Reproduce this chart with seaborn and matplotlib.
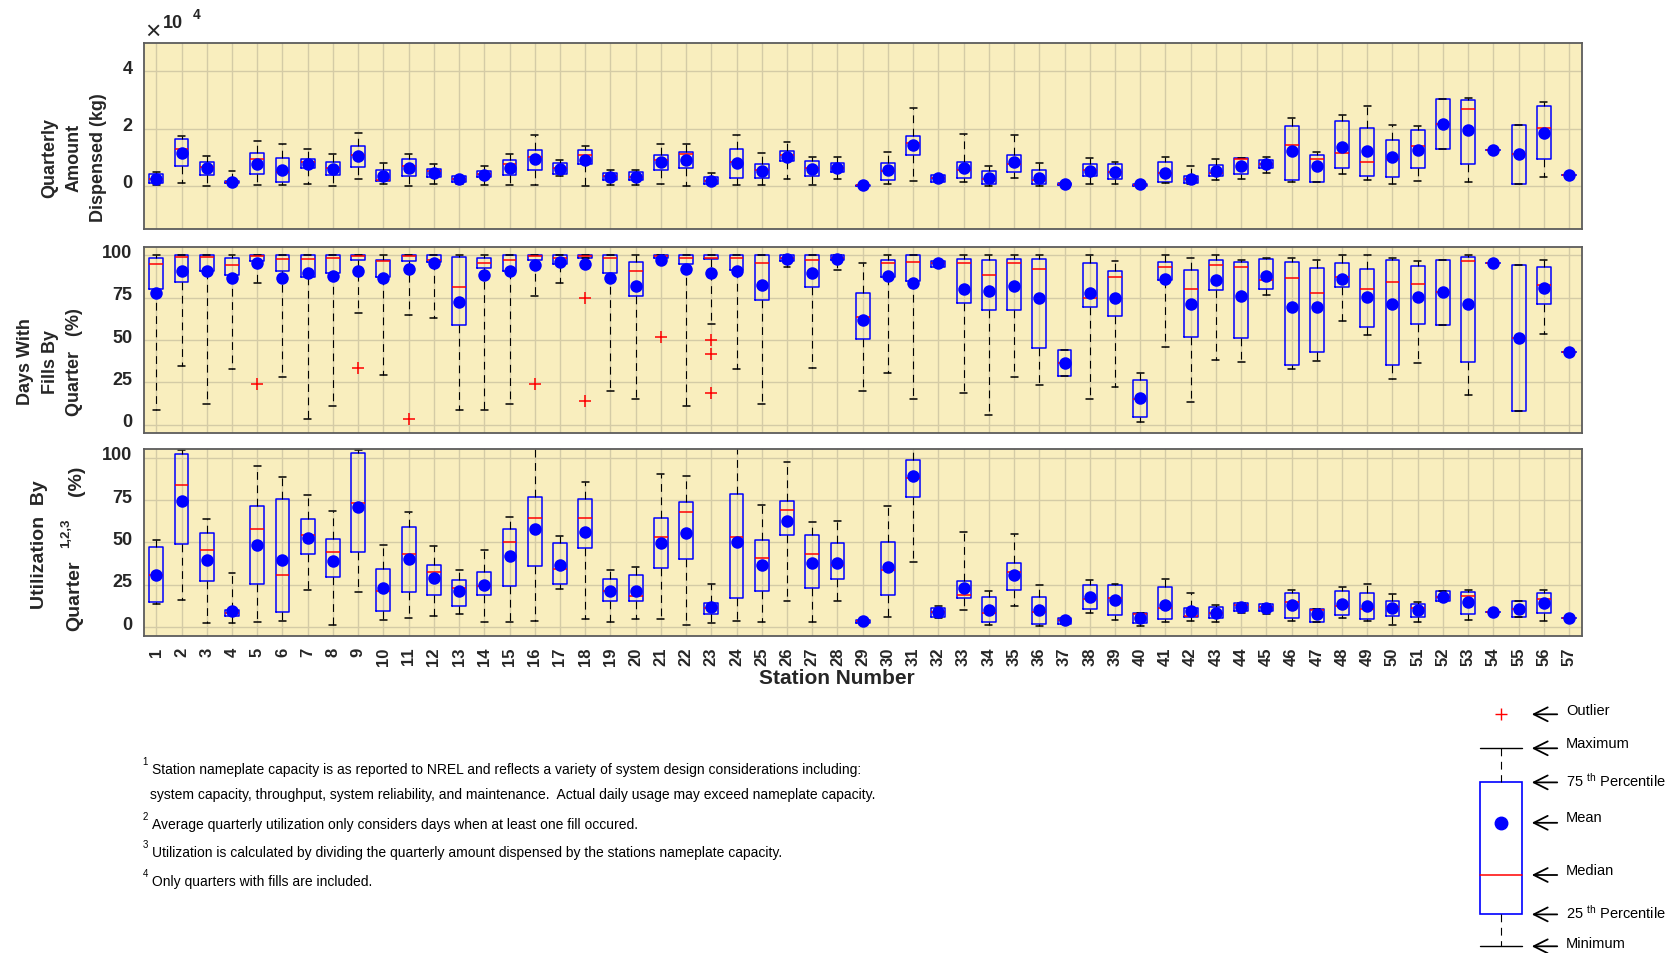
import numpy as np
import pandas as pd
import matplotlib
matplotlib.use("Agg")
import matplotlib.pyplot as plt
from matplotlib.patches import Rectangle
from matplotlib.ticker import FuncFormatter
from matplotlib.transforms import ScaledTranslation
import seaborn as sns

W, H = 1669, 954

stations = [str(i) for i in range(1, 58)]

# Quarterly amount dispensed (kg): whisker low, 25th, median, 75th, whisker high, mean
amt_lo = [200, 1000, 100, 500, 200, 300, 500, 100, 2300, 500, 100, 800, 700, 200, 200, 200, 3600, 100, 300,
          200, 500, 0, 500, 300, 200, 2400, 200, 2500, 0, 800, 1700, 1400, 1400, 100, 2600, 100, 0, 600,
          500, 0, 900, 500, 2200, 2400, 4600, 1400, 1400, 4100, 2200, 700, 1700, 13000, 1400, 12400, 800, 3000, 3700]
amt_q1 = [1000, 7100, 3900, 900, 4000, 1500, 6200, 3700, 6700, 1600, 3300, 3100, 1400, 3000, 3900, 5700, 4100, 7700, 2200,
          2200, 5500, 6400, 800, 2600, 2800, 8700, 3300, 4700, 0, 2200, 10900, 1500, 2900, 500, 4700, 500, 200, 3300,
          2300, 0, 1300, 1100, 3600, 4000, 6400, 2100, 1400, 6200, 3400, 3200, 6100, 13000, 7600, 12400, 800, 9300, 3700]
amt_med = [2500, 13000, 6500, 1200, 9400, 4700, 8500, 6200, 10800, 2200, 6800, 5200, 2400, 4300, 7800, 10200, 6200, 10700, 3300,
           3000, 8900, 11000, 1800, 8200, 5400, 10800, 6400, 6400, 200, 5300, 14800, 2800, 5400, 2400, 7800, 2000, 600, 5400,
           4700, 400, 4400, 2500, 4500, 9300, 7600, 14100, 9300, 11600, 8200, 9500, 13900, 21700, 26700, 12400, 11000, 20300, 3700]
amt_q3 = [4100, 16300, 8300, 1800, 11500, 9900, 9400, 8500, 14000, 5500, 9500, 5900, 3300, 5300, 9200, 12500, 8000, 12400, 4600,
          4700, 10700, 12000, 3000, 12800, 7800, 12200, 8700, 8000, 400, 8000, 17500, 3700, 8200, 5100, 10900, 5400, 1000, 7700,
          7700, 800, 8200, 3300, 7200, 9800, 9000, 20900, 10800, 22500, 20100, 16100, 19400, 30300, 29900, 12400, 21100, 27800, 3700]
amt_hi = [4800, 17500, 10500, 5300, 15700, 14500, 12900, 11300, 18500, 8000, 11100, 7800, 3600, 7000, 11000, 17600, 9000, 14000, 5600,
          5400, 14600, 14500, 4400, 17600, 11500, 15400, 10200, 10200, 500, 11700, 27200, 3900, 18200, 6800, 17600, 7900, 1200, 9900,
          8300, 800, 10200, 7000, 9500, 9900, 10100, 23600, 11800, 24900, 28000, 21400, 20900, 30300, 30800, 12400, 21100, 29300, 3700]
amt_mean = [2500, 11400, 6100, 1400, 7800, 5700, 7700, 5900, 10600, 3400, 6400, 4600, 2400, 3900, 6400, 9400, 6000, 9100, 3200,
            3200, 8200, 9000, 1800, 7900, 5300, 10200, 5900, 6200, 300, 5400, 14400, 2800, 6300, 2900, 8200, 2900, 700, 5300,
            4700, 500, 4500, 2500, 5300, 7100, 7600, 12300, 6800, 13700, 12200, 10000, 12600, 21700, 19500, 12400, 11000, 18300, 3700]

# Days with fills by quarter (%)
fill_lo = [8.8, 35.0, 12.3, 32.8, 83.6, 28.3, 3.5, 11.1, 65.8, 29.5, 65.0, 62.9, 8.8, 8.8, 12.3, 75.8, 83.6, 98.6, 19.7,
           15.4, 98.6, 11.1, 59.8, 32.8, 12.3, 93.4, 33.8, 91.2, 19.7, 30.5, 15.4, 93.4, 18.8, 5.7, 28.3, 23.4, 28.9, 15.4,
           22.1, 1.4, 46.1, 13.5, 38.1, 36.9, 76.8, 33.2, 37.5, 61.1, 53.1, 27.1, 36.3, 58.8, 17.8, 95.3, 8.0, 53.7, 42.8]
fill_q1 = [80.1, 84.2, 91.0, 88.7, 96.5, 91.0, 87.3, 89.5, 97.5, 87.5, 96.9, 95.9, 59.2, 92.6, 91.0, 97.5, 95.1, 98.6, 89.5,
           76.2, 98.6, 94.9, 97.7, 91.4, 74.0, 96.5, 81.3, 97.1, 50.6, 87.3, 85.2, 93.4, 72.1, 68.0, 67.8, 45.5, 28.9, 69.3,
           64.1, 4.9, 85.7, 52.0, 79.5, 51.0, 80.1, 35.2, 42.8, 81.6, 58.0, 35.5, 59.4, 58.8, 37.3, 95.3, 8.0, 71.1, 42.8]
fill_med = [94.9, 99.0, 99.0, 94.3, 99.8, 98.0, 98.0, 98.8, 99.4, 96.5, 99.4, 97.5, 81.3, 95.3, 97.5, 99.8, 98.6, 99.8, 98.8,
            91.0, 99.8, 98.8, 98.8, 98.8, 95.3, 98.4, 97.5, 98.6, 63.9, 95.5, 96.3, 95.3, 95.5, 88.3, 95.3, 92.0, 36.5, 74.8,
            87.1, 15.4, 93.2, 80.3, 94.1, 93.2, 85.7, 86.7, 78.1, 87.5, 80.3, 84.6, 83.2, 78.3, 96.5, 95.3, 51.2, 82.4, 42.8]
fill_q3 = [98.6, 100, 100, 98.4, 100, 100, 100, 100, 100, 97.5, 100, 100, 99.2, 98.4, 100, 100, 100, 100, 100,
           96.1, 100, 100, 100, 100, 100, 100, 100, 100, 77.9, 97.5, 100, 96.9, 97.9, 97.5, 98.2, 97.9, 43.9, 95.5,
           91.0, 26.6, 96.3, 91.6, 97.3, 96.3, 97.7, 96.1, 92.4, 95.7, 92.2, 97.5, 93.9, 97.5, 99.0, 95.3, 94.3, 93.4, 42.8]
fill_hi = [100, 100, 100, 100, 100, 100, 100, 100, 100, 100, 100, 100, 100, 100, 100, 100, 100, 100, 100,
           100, 100, 100, 100, 100, 100, 100, 100, 100, 95.3, 100, 100, 96.9, 100, 100, 100, 100, 43.9, 100,
           96.5, 30.5, 100, 98.4, 100, 97.3, 98.4, 98.4, 97.3, 100, 100, 98.4, 96.5, 97.5, 100, 95.3, 94.3, 97.3, 42.8]
fill_mean = [78.1, 90.6, 91.0, 86.7, 95.3, 86.7, 89.6, 87.7, 90.8, 86.9, 92.2, 95.3, 72.5, 88.5, 91.0, 94.3, 96.3, 94.7, 86.9,
             82.0, 97.3, 92.2, 89.6, 90.6, 82.8, 98.0, 89.6, 98.2, 62.1, 87.7, 83.6, 95.3, 80.3, 79.1, 82.2, 74.6, 36.5, 77.7,
             75.0, 15.6, 86.1, 71.3, 85.4, 76.0, 87.9, 69.7, 69.5, 86.3, 75.6, 71.3, 75.2, 78.3, 71.3, 95.3, 51.2, 80.7, 42.8]
fill_out_station = ["5", "9", "11", "16", "18", "18", "21", "23", "23", "23"]
fill_out_value = [24.0, 33.6, 3.5, 24.0, 74.6, 14.3, 52.1, 50.2, 41.8, 18.8]

# Utilization by quarter (%)
util_lo = [13.7, 15.9, 2.5, 2.2, 2.9, 3.3, 21.8, 1.2, 20.6, 4.1, 5.3, 6.3, 7.5, 2.9, 3.1, 3.7, 22.2, 4.7, 2.9,
           4.7, 4.7, 1.0, 2.4, 3.7, 2.7, 15.1, 2.7, 15.5, 2.2, 5.9, 38.6, 5.5, 9.8, 1.4, 12.7, 0.8, 2.0, 8.2,
           3.9, 0.6, 2.9, 3.5, 3.1, 8.4, 7.8, 3.7, 2.9, 5.5, 3.5, 1.4, 2.9, 15.1, 4.3, 8.8, 6.1, 3.5, 5.5]
util_q1 = [14.5, 49.0, 26.9, 6.5, 25.3, 9.0, 42.9, 29.4, 44.1, 9.4, 20.4, 19.0, 12.4, 18.8, 24.1, 36.1, 25.5, 46.7, 15.3,
           15.3, 34.7, 40.0, 7.5, 16.9, 21.0, 54.5, 23.1, 28.4, 2.5, 18.8, 76.5, 5.9, 16.9, 2.9, 22.0, 1.6, 2.0, 10.6,
           6.9, 2.4, 4.7, 6.1, 5.3, 9.4, 9.4, 5.3, 2.9, 6.9, 4.7, 6.5, 6.1, 15.1, 7.6, 8.8, 6.1, 8.2, 5.5]
util_med = [31.0, 83.9, 45.3, 8.0, 57.8, 30.8, 54.5, 44.1, 73.5, 21.2, 43.3, 32.4, 23.3, 24.1, 50.4, 64.3, 34.3, 64.1, 21.0,
            18.6, 53.3, 67.8, 11.4, 53.3, 40.6, 69.2, 43.1, 36.5, 3.3, 33.5, 88.0, 8.6, 19.2, 8.4, 32.4, 8.6, 4.0, 16.5,
            17.1, 7.5, 11.2, 6.5, 8.4, 13.3, 11.8, 14.7, 10.0, 12.4, 10.6, 11.8, 11.2, 18.0, 18.2, 8.8, 10.6, 16.5, 5.5]
util_q3 = [47.1, 102.2, 55.3, 10.2, 71.2, 75.7, 63.5, 51.8, 102.7, 34.1, 59.2, 36.5, 27.5, 32.7, 57.8, 76.7, 49.8, 75.7, 28.6,
           31.0, 64.1, 74.1, 14.1, 78.4, 51.4, 74.7, 54.3, 49.4, 4.1, 50.2, 98.8, 11.4, 27.1, 17.5, 38.0, 17.5, 5.5, 25.1,
           24.7, 8.0, 23.5, 11.4, 11.8, 13.9, 13.5, 20.0, 10.8, 21.0, 20.0, 15.1, 13.5, 21.0, 20.6, 8.8, 15.1, 19.8, 5.5]
util_hi = [51.6, 104.5, 63.9, 32.0, 94.9, 88.6, 77.8, 68.6, 104.5, 48.6, 68.2, 47.6, 33.7, 45.7, 64.9, 115, 53.7, 85.7, 33.9,
           35.7, 90.2, 89.2, 25.7, 120, 71.8, 97.3, 62.2, 62.9, 4.3, 71.2, 110, 12.4, 56.3, 21.2, 55.1, 24.7, 5.5, 28.0,
           25.7, 8.0, 28.2, 20.2, 13.3, 13.9, 13.5, 21.6, 10.8, 23.5, 25.7, 19.4, 14.9, 21.0, 21.6, 8.8, 15.1, 21.6, 5.5]
util_mean = [31.0, 74.7, 39.4, 9.4, 48.2, 39.6, 52.4, 39.0, 71.0, 23.3, 40.4, 28.8, 21.2, 24.7, 42.0, 58.0, 36.9, 56.3, 21.0,
             21.4, 49.6, 55.5, 12.0, 50.4, 36.5, 62.9, 38.0, 38.0, 3.3, 35.7, 89.0, 8.6, 23.1, 10.0, 31.0, 10.2, 3.9, 18.0,
             15.7, 5.5, 13.1, 9.2, 8.4, 11.8, 11.4, 12.9, 7.5, 13.5, 12.7, 11.0, 9.8, 18.0, 14.9, 8.8, 10.6, 14.1, 5.5]

footnotes = [
    ("1", "Station nameplate capacity is as reported to NREL and reflects a variety of system design considerations including:"),
    ("", "system capacity, throughput, system reliability, and maintenance.  Actual daily usage may exceed nameplate capacity."),
    ("2", "Average quarterly utilization only considers days when at least one fill occured."),
    ("3", "Utilization is calculated by dividing the quarterly amount dispensed by the stations nameplate capacity."),
    ("4", "Only quarters with fills are included."),
]

PANEL_BG = "#F9EEBE"
GRID = "#D4CBA6"
TXT = "#262626"

sns.set_theme(style="white")
plt.rcParams["font.family"] = ["Liberation Sans", "DejaVu Sans"]
plt.rcParams["mathtext.fontset"] = "custom"
plt.rcParams["mathtext.rm"] = "Liberation Sans"
plt.rcParams["mathtext.it"] = "Liberation Sans:italic"
plt.rcParams["mathtext.bf"] = "Liberation Sans:bold"
plt.rcParams["mathtext.default"] = "regular"


def box_frame(lo, q1, med, q3, hi):
    # five values per station reproduce the whiskers and quartiles exactly
    rows = []
    for st, five in zip(stations, zip(lo, q1, med, q3, hi)):
        rows += [(st, v) for v in five]
    return pd.DataFrame(rows, columns=["station", "value"])


def draw_panel(ax, lo, q1, med, q3, hi, mean, ylim, yticks):
    df = box_frame(lo, q1, med, q3, hi)
    sns.boxplot(data=df, x="station", y="value", order=stations, whis=(0, 100),
                width=0.55, fill=False, showfliers=False, ax=ax,
                boxprops=dict(color="blue", linewidth=1.1),
                medianprops=dict(color="red", linewidth=1.1),
                whiskerprops=dict(color="black", linewidth=0.8, linestyle=(0, (7, 5))),
                capprops=dict(color="black", linewidth=1.1))
    sns.stripplot(x=stations, y=mean, order=stations, jitter=False, color="blue",
                  size=9, linewidth=0, ax=ax, zorder=5)
    ax.set_xlim(-0.5, len(stations) - 0.5)
    ax.set_ylim(*ylim)
    ax.set_yticks(yticks)
    ax.set_facecolor(PANEL_BG)
    ax.grid(True, color=GRID, linewidth=1.0)
    ax.set_axisbelow(True)
    ax.set_xlabel("")
    ax.set_ylabel("")
    ax.tick_params(length=0, labelsize=13, pad=8, colors=TXT)
    for sp in ax.spines.values():
        sp.set_visible(True)
        sp.set_color("#5c5c5c")
        sp.set_linewidth(1.3)


def fx(px):
    return px / W


def fy(py):
    return 1 - py / H


fig = plt.figure(figsize=(W / 100, H / 100), dpi=100)
left, right = 143.7, 1581.7
ax_amt = fig.add_axes([fx(left), fy(229.9), fx(right) - fx(left), (229.9 - 43.6) / H])
ax_fill = fig.add_axes([fx(left), fy(434.3), fx(right) - fx(left), (434.3 - 248.0) / H])
ax_util = fig.add_axes([fx(left), fy(636.5), fx(right) - fx(left), (636.5 - 450.2) / H])

draw_panel(ax_amt, amt_lo, amt_q1, amt_med, amt_q3, amt_hi, amt_mean, (-15000, 50000), [0, 20000, 40000])
ax_amt.yaxis.set_major_formatter(FuncFormatter(lambda v, p: f"{v / 1e4:g}"))

draw_panel(ax_fill, fill_lo, fill_q1, fill_med, fill_q3, fill_hi, fill_mean, (-5, 105), [0, 25, 50, 75, 100])
out_pos = [stations.index(s) for s in fill_out_station]
ax_fill.plot(out_pos, fill_out_value, linestyle="none", marker="+", color="red", ms=9, mew=1.1, zorder=6)

draw_panel(ax_util, util_lo, util_q1, util_med, util_q3, util_hi, util_mean, (-5, 105), [0, 25, 50, 75, 100])

for ax in (ax_amt, ax_fill):
    ax.tick_params(labelbottom=False)
ax_util.set_xticks(range(len(stations)))
ax_util.set_xticklabels(stations, rotation=90, fontsize=12, fontweight="bold")

# y tick labels sit a little above their grid lines in the original
lift = ScaledTranslation(0, 5 / 100, fig.dpi_scale_trans)
for ax in (ax_amt, ax_fill, ax_util):
    for t in ax.get_yticklabels():
        t.set_fontweight("bold")
        t.set_transform(t.get_transform() + lift)

# overlay in pixel coordinates for labels, footnotes and the key
ov = fig.add_axes([0, 0, 1, 1])
ov.set_xlim(0, W)
ov.set_ylim(H, 0)
ov.axis("off")

lab = dict(rotation=90, ha="center", va="center", multialignment="center",
           fontsize=13, fontweight="bold", color=TXT, linespacing=1.55)
ov.text(74, 158, "Quarterly\nAmount\nDispensed (kg)", **lab)
ov.text(50, 362, "Days With\nFills By\nQuarter   (%)", **lab)
ov.text(39.5, 545, "Utilization  By", **{**lab, "fontsize": 14})
ov.text(74.5, 596, "Quarter", **{**lab, "fontsize": 14})
ov.text(66, 533, "1,2,3", rotation=90, ha="center", va="center", fontsize=9.5, fontweight="bold", color=TXT)
ov.text(76.5, 481, "(%)", **{**lab, "fontsize": 14})

ov.text(153, 32, "\u00d7", fontsize=19, ha="center", va="center", color=TXT)
ov.text(173, 23, "10", fontsize=13, fontweight="bold", ha="center", va="center", color=TXT)
ov.text(197, 15, "4", fontsize=10, fontweight="bold", ha="center", va="center", color=TXT)

ov.text(836.6, 679, "Station Number", fontsize=15, fontweight="bold", ha="center", va="center", color=TXT)

# footnotes
line_y = [770.5, 795, 825, 853.5, 882]
for (num, body), y in zip(footnotes, line_y):
    if num:
        ov.text(145, y - 8, num, fontsize=7, ha="center", va="center", color="black")
        ov.text(152, y, body, fontsize=10, ha="left", va="center", color="black")
    else:
        ov.text(150, y, body, fontsize=10, ha="left", va="center", color="black")

# legend key
kx0, kx1, kxc = 1479.5, 1522.1, 1500.8
ov.plot(kxc, 715.3, marker="+", color="red", ms=9, mew=1.0)
ov.plot([kx0, kx1], [749.3, 749.3], color="black", lw=1.0)
ov.plot([kxc, kxc], [749.3, 783.4], color="black", lw=0.8, ls=(0, (7, 5)))
ov.add_patch(Rectangle((kx0, 783.4), kx1 - kx0, 915.4 - 783.4, fill=False, edgecolor="blue", lw=1.2))
ov.plot([kx0, kx1], [876, 876], color="red", lw=1.1)
ov.plot(kxc, 823.8, marker="o", color="blue", ms=9)
ov.plot([kxc, kxc], [915.4, 947.3], color="black", lw=0.8, ls=(0, (7, 5)))
ov.plot([kx0, kx1], [947.3, 947.3], color="black", lw=1.0)

key_rows = [(715.3, 711, "Outlier"), (749.3, 744, "Maximum"), (783.4, 781, "75 $^{th}$ Percentile"),
            (823.8, 818.5, "Mean"), (876, 871, "Median"), (915.4, 913, "25 $^{th}$ Percentile"),
            (947.3, 944, "Minimum")]
for ya, yt, txt in key_rows:
    ov.annotate("", xy=(1529, ya), xytext=(1560, ya),
                arrowprops=dict(arrowstyle="->", color="black", lw=1.3, mutation_scale=25))
    ov.text(1566, yt, txt, fontsize=10.5, ha="left", va="center", color="black")

fig.savefig("out.png", dpi=100)
